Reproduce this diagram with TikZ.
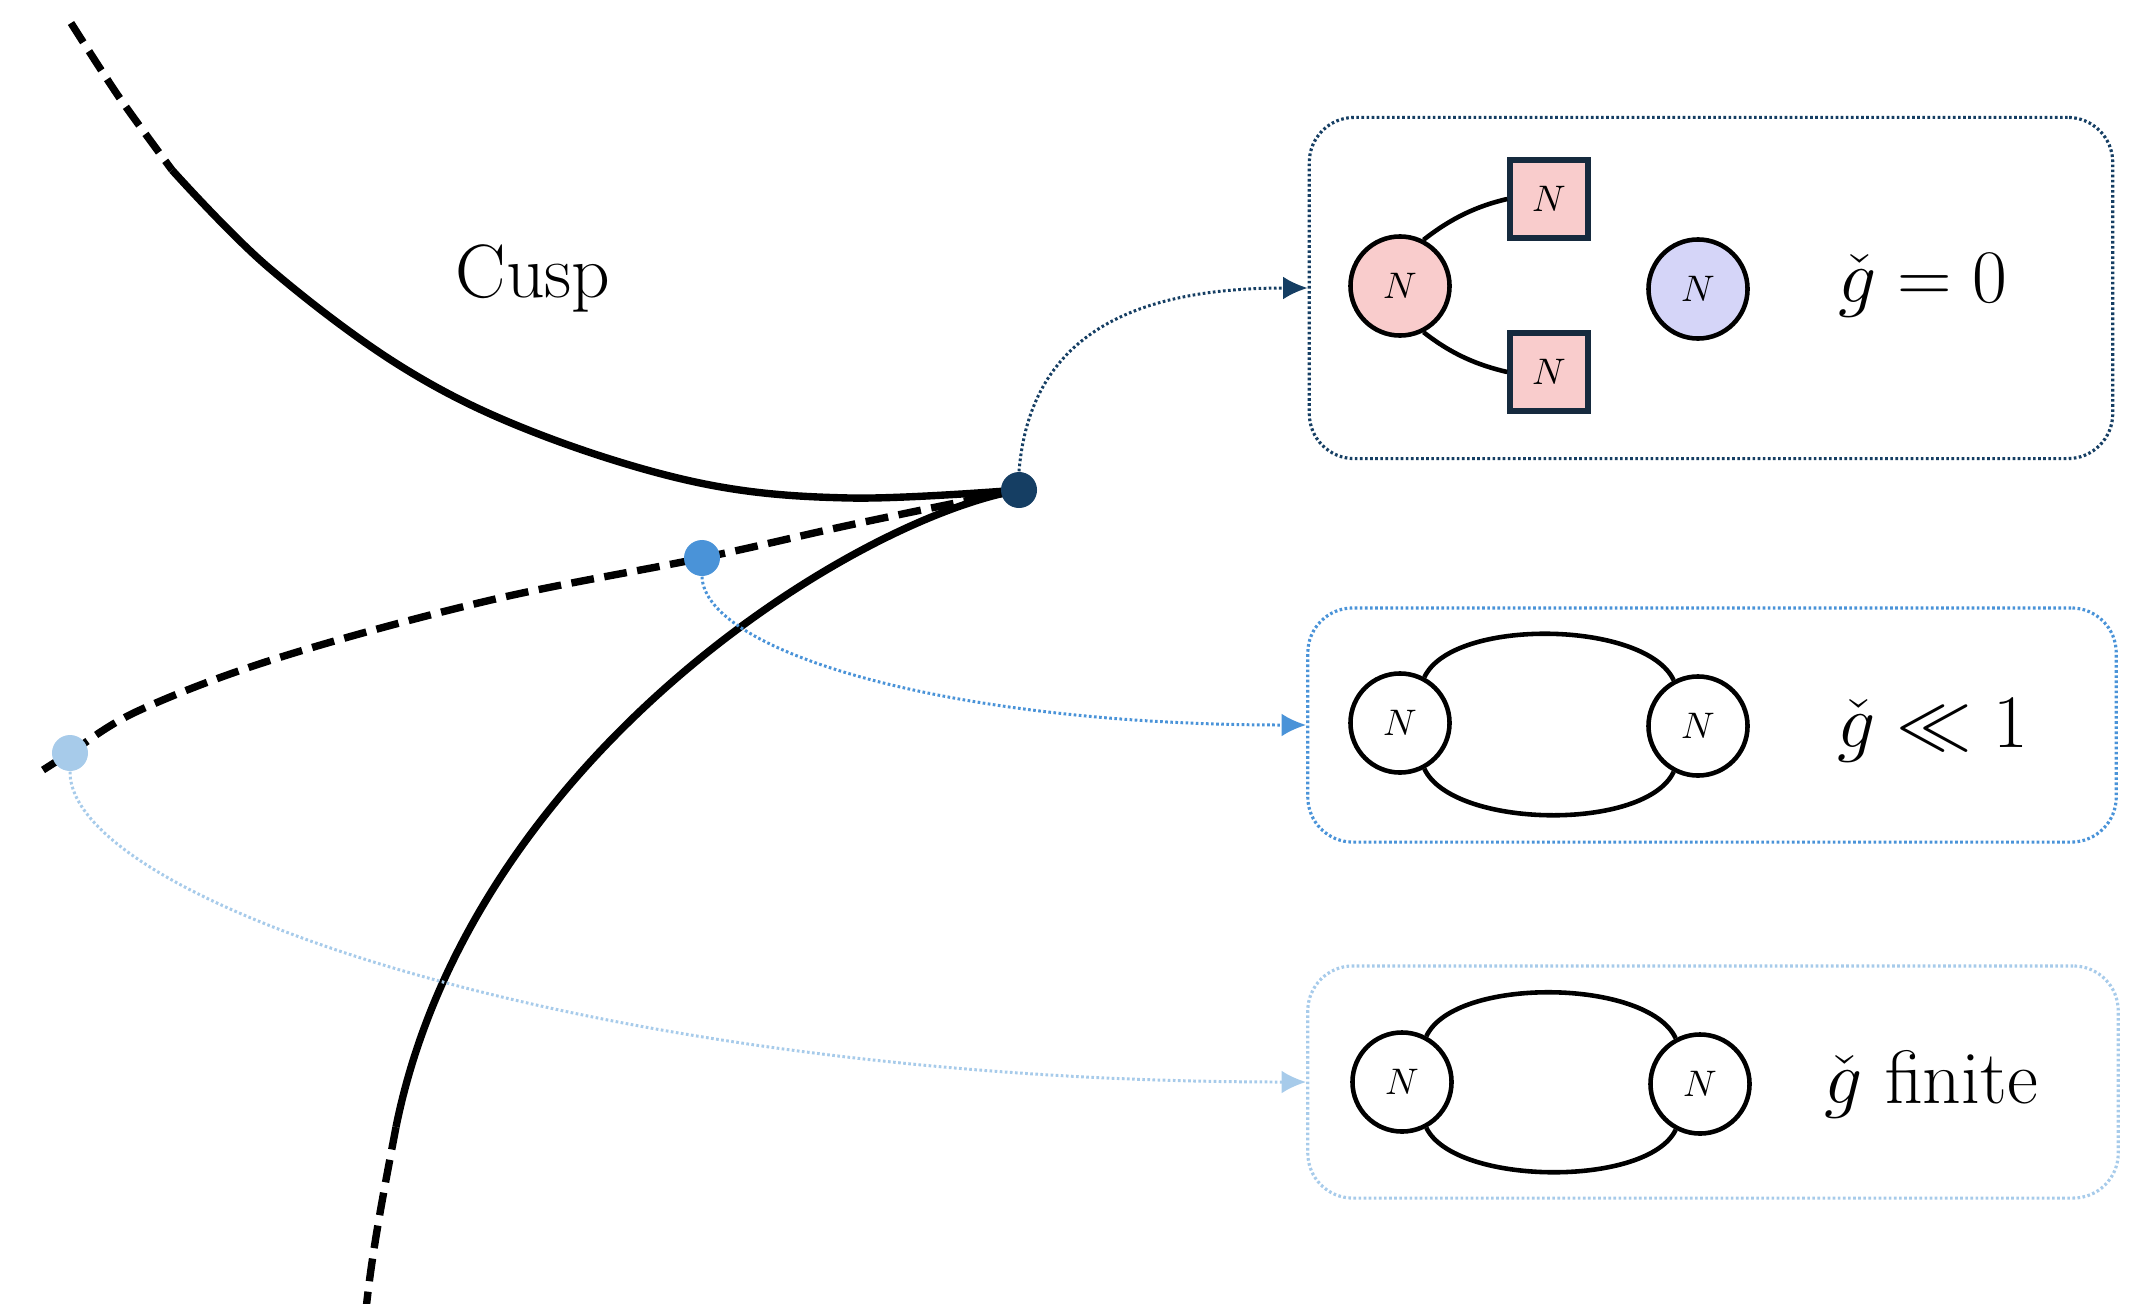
\RequirePackage{fix-cm}
\documentclass[tikz,border=0pt]{standalone}
\usetikzlibrary{arrows.meta}
\definecolor{navy}{RGB}{21,62,99}
\definecolor{midblue}{RGB}{74,147,216}
\definecolor{lightblue}{RGB}{167,203,234}
\definecolor{pinkfill}{RGB}{249,204,204}
\definecolor{lavfill}{RGB}{213,213,248}
\definecolor{sqborder}{RGB}{22,42,62}
\begin{document}
\begin{tikzpicture}[x=0.01cm,y=-0.01cm,
  mainline/.style={line width=2.1pt, line join=round},
  dashline/.style={mainline, dash pattern=on 6.5pt off 3pt},
  dotconn/.style={line width=0.85pt, dash pattern=on 0.75pt off 0.7pt, -{Latex[length=7pt,width=6.5pt]}},
  framebox/.style={draw, line width=0.9pt, dash pattern=on 0.75pt off 0.7pt, rounded corners=0.45cm, inner sep=0pt},
  statedot/.style={circle, inner sep=0pt, minimum size=0.36cm},
  ncirc/.style={circle, draw, line width=1.3pt, minimum size=0.99cm, inner sep=0pt, font=\fontsize{10.5}{12}\selectfont},
  nsq/.style={rectangle, draw=sqborder, line width=1.6pt, fill=pinkfill, minimum size=0.78cm, inner sep=0pt, font=\fontsize{10.5}{12}\selectfont},
  arcline/.style={line width=1.3pt},
  lbl/.style={font=\fontsize{21.5}{26}\selectfont, anchor=base}
]
\useasboundingbox (0,0) rectangle (2131,1303);

% boxes
\node[framebox, draw=navy, minimum width=8.03cm, minimum height=3.41cm] (B1) at (1711,288) {};
\node[framebox, draw=midblue, minimum width=8.08cm, minimum height=2.34cm] (B2) at (1712,725) {};
\node[framebox, draw=lightblue, minimum width=8.1cm, minimum height=2.32cm] (B3) at (1713,1082) {};

% main curves
\draw[dashline] plot[smooth] coordinates {(71,23) (119,97) (172,170)};
\draw[mainline] plot[smooth, tension=0.6] coordinates {(172,170) (268,267) (402,367) (536,433) (700,483) (850,498) (1019,490)};
\draw[mainline] (1019,490) .. controls (850,520) and (470,760) .. (396,1127);
\draw[dashline] (396,1127) .. controls (386,1180) and (372,1250) .. (366,1310);
\draw[dashline] plot[smooth, tension=0.6] coordinates {(1019,490) (850,525) (702,558) (491,600) (281,657) (140,710) (70,753) (43,770)};

\node[lbl] (cusplbl) at (533,297) {Cusp};

% dots
\node[statedot, fill=navy] (P0) at (1019,490) {};
\node[statedot, fill=midblue] (P1) at (702,558) {};
\node[statedot, fill=lightblue] (P2) at (70,753) {};

% connectors
\draw[dotconn, navy] (P0.north) .. controls +(11,-133) and +(-180,0) .. (B1.west);
\draw[dotconn, midblue] (P1.south) .. controls +(3,75) and +(-358,0) .. (B2.west);
\draw[dotconn, lightblue] (P2.south) .. controls +(0,130) and +(-708,0) .. (B3.west);

% box 1 content
\node[ncirc, fill=pinkfill] (A1) at (1400,286) {$N$};
\node[nsq] (S1) at (1549,199) {$N$};
\node[nsq] (S2) at (1549,372) {$N$};
\node[ncirc, fill=lavfill] (A2) at (1698,289) {$N$};
\draw[arcline] (A1.63) .. controls +(28,-22) and +(-30,7) .. (S1.west);
\draw[arcline] (A1.-63) .. controls +(28,22) and +(-30,-7) .. (S2.west);
\node[lbl] (G1) at (1923,302) {$\check{g}=0$};

% box 2 content
\node[ncirc] (C1) at (1400,723) {$N$};
\node[ncirc] (C2) at (1698,726) {$N$};
\draw[arcline] (C1.62) .. controls +(28,-60) and +(-28,-60) .. (C2.118);
\draw[arcline] (C1.-62) .. controls +(28,60) and +(-28,60) .. (C2.-118);
\node[lbl] (G2) at (1933,747) {$\check{g}\ll 1$};

% box 3 content
\node[ncirc] (D1) at (1402,1082) {$N$};
\node[ncirc] (D2) at (1700,1084) {$N$};
\draw[arcline] (D1.62) .. controls +(28,-60) and +(-28,-60) .. (D2.118);
\draw[arcline] (D1.-62) .. controls +(28,58) and +(-28,58) .. (D2.-118);
\node[lbl] (G3) at (1931,1103) {$\check{g}$ finite};
\end{tikzpicture}
\end{document}
